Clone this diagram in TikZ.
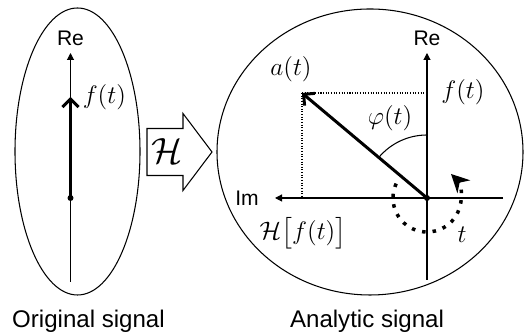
\documentclass[tikz,border=0pt]{standalone}
\usepackage{amsmath,amssymb}
\usepackage{fontspec}
\setmainfont{Liberation Sans}
\usepackage{tikz}
\usetikzlibrary{arrows.meta,calc,positioning}

\begin{document}
\begin{tikzpicture}[>={Triangle[length=0.14cm,width=0.14cm]},line width=0.6pt,
    vec/.style={line width=1.7pt,-{Straight Barb[length=0.16cm,width=0.32cm]}},
    guide/.style={dash pattern=on 0.6pt off 0.9pt},
    axlabel/.style={font=\fontsize{12}{14}\selectfont,inner sep=1pt},
    mlabel/.style={font=\fontsize{15}{17}\selectfont,inner sep=1pt},
    title/.style={font=\fontsize{13.7}{16}\selectfont,inner sep=1pt}]
    \useasboundingbox (0,0) rectangle (10.5,6.68);
    % original signal
    \draw (1.55,3.65) ellipse [x radius=1.25,y radius=2.87];
    \coordinate (L0) at (1.41,2.72);
    \coordinate (Lbot) at (1.41,1.04);
    \coordinate (Ltop) at (1.41,5.62);
    \coordinate (Lf) at (1.41,4.74);
    \draw[->] (Lbot)--(Ltop);
    \node[axlabel,above=0.1cm of Ltop] (reL) {Re};
    \draw[vec] (L0)--(Lf);
    \fill (L0) circle (0.06);
    \node[mlabel,right=0.2cm of Lf] (fL) {$f(t)$};
    \node[title] (orig) at (1.77,0.26) {Original signal};
    % transform
    \draw (2.94,3.17)--(2.94,4.11)--(3.66,4.11)--(3.66,4.41)--(4.24,3.64)
      --(3.66,2.87)--(3.66,3.17)--cycle;
    \node[font=\fontsize{20}{22}\selectfont] (hil) at (3.34,3.66) {$\mathcal{H}$};
    % analytic signal
    \draw (7.4,3.64) ellipse [x radius=3.06,y radius=2.86];
    \coordinate (O) at (8.54,2.72);
    \coordinate (Rtop) at (8.54,5.62);
    \coordinate (Rbot) at (8.54,1.08);
    \coordinate (Iright) at (10.06,2.72);
    \coordinate (Ileft) at (5.5,2.72);
    \coordinate (A) at (6.04,4.82);
    \draw[->] (Rbot)--(Rtop);
    \draw[->] (Iright)--(Ileft);
    \node[axlabel,above=0.1cm of Rtop] (reR) {Re};
    \node[axlabel,left=0.28cm of Ileft] (im) {Im};
    \draw[guide] (A)--(A |- O);
    \draw[guide] (A)--(A -| O);
    \draw[vec] (O)--(A);
    \draw (O) ++(90:1.26) arc[start angle=90,end angle=140,radius=1.26];
    \fill (O) circle (0.06);
    \draw[line width=2pt,dash pattern=on 2pt off 4pt,
      -{Stealth[length=0.36cm,width=0.36cm]}]
      (O) ++(155:0.68) arc[start angle=155,end angle=405,radius=0.68];
    \node[mlabel] (amp) at (5.82,5.3) {$a(t)$};
    \node[mlabel] (phi) at (7.8,4.32) {$\varphi(t)$};
    \node[mlabel] (fR) at (9.26,4.84) {$f(t)$};
    \node[mlabel] (tt) at (9.24,1.98) {$t$};
    \node[mlabel] (hf) at (6.06,2.02) {$\mathcal{H}\big[f(t)\big]$};
    \node[title] (anal) at (7.34,0.26) {Analytic signal};
  \end{tikzpicture}
\end{document}
